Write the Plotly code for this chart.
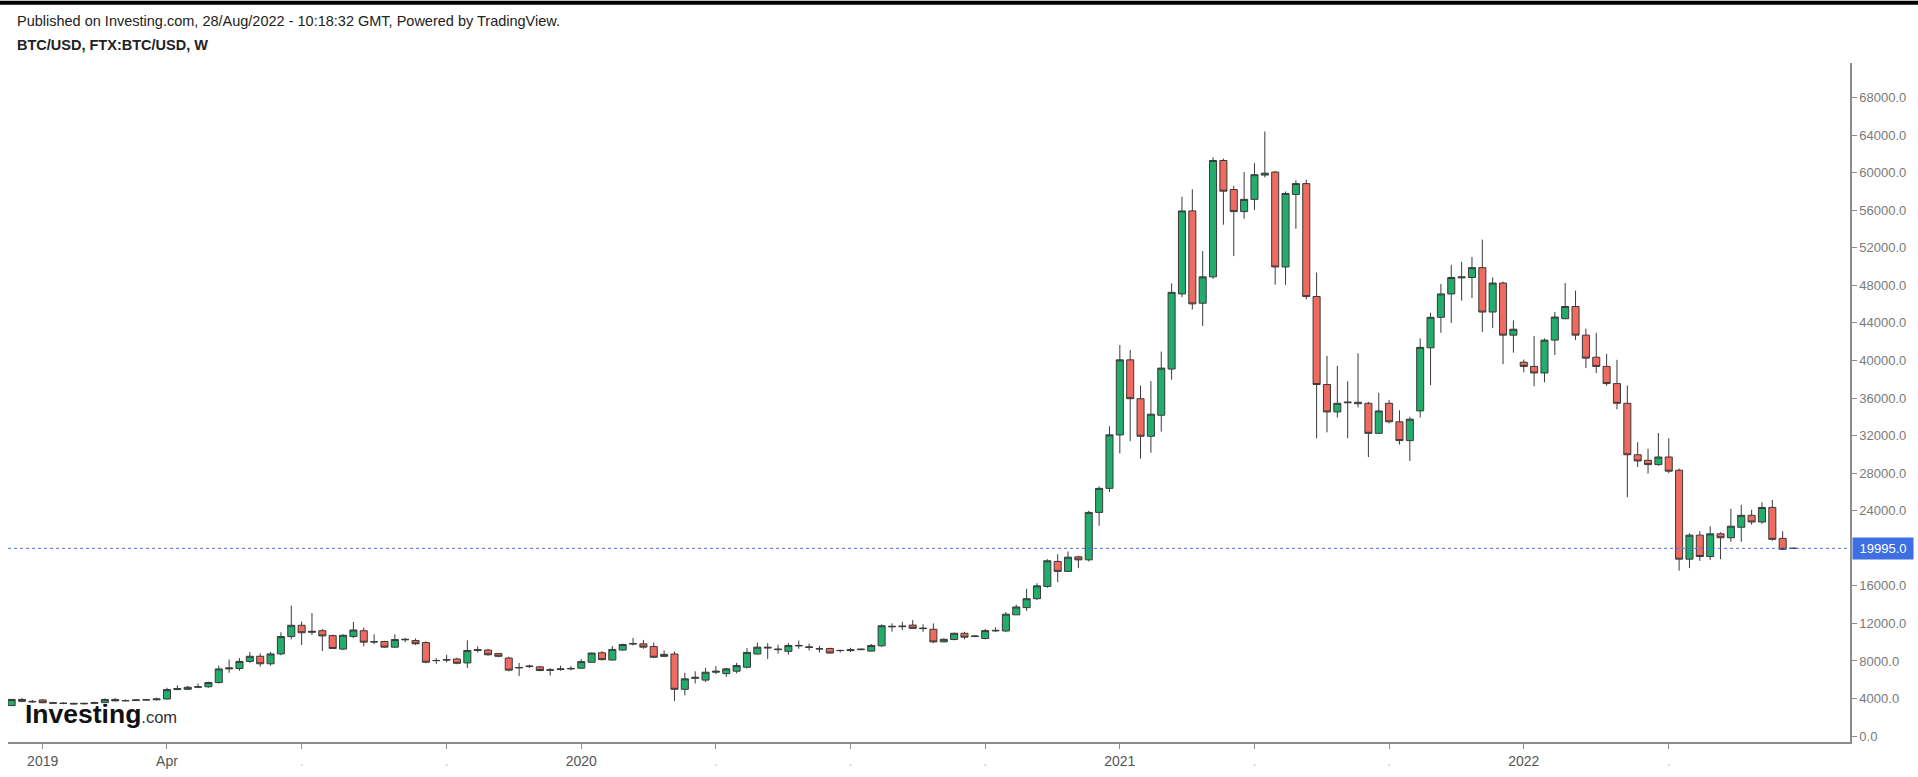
import plotly.graph_objects as go

# ---------------- data (weekly candles, bar index order) ----------------
opens = [3250, 3900, 3700, 3850, 3550, 3500, 3480, 3430, 3480, 3560, 3900, 3750, 3780, 3850, 3860,
         3950, 4950, 4980, 5200, 5250, 5700, 7150, 7200, 7950, 8500, 7700, 8750, 10600, 11800, 11050,
         11220, 10700, 9260, 10600, 11220, 10050, 10070, 9470, 10250, 10180, 9960, 8030, 8150, 8210, 7790,
         9120, 9160, 8800, 8310, 7260, 7400, 7370, 7000, 7100, 7150, 7230, 7860, 8870, 8100, 9160,
         9800, 9820, 9540, 8490, 8740, 4980, 6150, 5960, 6800, 6650, 6910, 7330, 8740, 9370, 9200,
         9020, 9600, 9500, 9300, 9330, 9100, 9100, 9200, 9050, 9610, 11700, 11650, 11820, 11500, 11370,
         10030, 10280, 10950, 10600, 10390, 11200, 11190, 12910, 13680, 14630, 15930, 18600, 17540, 19090, 18770,
         23820, 26380, 32070, 40070, 35930, 31930, 34170, 39090, 47090, 55930, 46100, 48910, 61300, 58210, 55860,
         57160, 59750, 60070, 49960, 57680, 58840, 46810, 37440, 34520, 35500, 35550, 35440, 32240, 35440, 33470,
         31470, 34630, 41350, 44600, 47090, 48800, 48840, 49890, 45160, 48250, 42700, 39820, 39370, 38670, 42170,
         44450, 45750, 42700, 40350, 39370, 37540, 35440, 29960, 29370, 28910, 29720, 28310, 18840, 21400, 19120,
         21540, 21120, 22240, 23510, 22800, 24350, 21050, 19995]
highs = [3950, 4050, 3850, 3950, 3650, 3600, 3550, 3550, 3650, 4000, 4050, 3900, 3950, 3950, 4100,
         5150, 5400, 5350, 5600, 5800, 7500, 8150, 8300, 8950, 8800, 8950, 11050, 13900, 12200, 13100,
         11400, 10800, 10850, 12150, 11550, 10840, 10150, 10840, 10450, 10400, 10100, 8300, 8660, 8350, 10200,
         9550, 9300, 8850, 8450, 7800, 7600, 7450, 7250, 7500, 7450, 8200, 8900, 9050, 9600, 9850,
         10450, 10240, 9960, 9120, 9000, 6740, 6900, 7260, 7440, 7250, 7790, 9370, 9960, 9890, 9720,
         9900, 10170, 9850, 9600, 9400, 9200, 9400, 9300, 9800, 11900, 12000, 12170, 12350, 11900, 12000,
         10400, 11000, 11100, 10750, 11400, 11580, 13200, 14000, 15680, 16280, 18840, 19370, 19650, 19200, 24000,
         26600, 33000, 41650, 41120, 37330, 37800, 40950, 48210, 57440, 58240, 51650, 61650, 61500, 58600, 60070,
         61020, 64390, 60200, 58000, 59190, 59260, 49370, 40490, 39440, 37790, 40770, 35600, 36560, 35800, 34700,
         34000, 42350, 45100, 48140, 50200, 50520, 51030, 52880, 48840, 48400, 44280, 40100, 42600, 42350, 45160,
         48250, 47440, 43400, 42950, 40700, 40070, 37330, 31300, 30600, 32280, 31720, 28500, 21600, 21820, 22350,
         21700, 24210, 24630, 24100, 24910, 25160, 21820, 20010]
lows = [3200, 3600, 3550, 3500, 3450, 3400, 3350, 3380, 3400, 3500, 3700, 3700, 3750, 3800, 3800,
        3900, 4900, 4900, 5100, 5150, 5600, 6750, 6950, 7800, 7400, 7500, 8600, 10300, 9700, 10770,
        9050, 9300, 9150, 10450, 9550, 9790, 9400, 9400, 10000, 9700, 7750, 7700, 7860, 7650, 7250,
        8900, 8550, 8400, 6900, 6400, 7250, 6900, 6450, 6950, 7000, 7150, 7800, 8050, 8050, 9100,
        9650, 9300, 8300, 8400, 3750, 4350, 5600, 5750, 6600, 6300, 6670, 7200, 8700, 8210, 8770,
        8670, 9300, 9120, 8900, 8800, 8900, 8950, 9150, 9000, 9500, 11120, 11300, 11400, 11100, 9900,
        10000, 10200, 10310, 10550, 10300, 11100, 11100, 12900, 13330, 14500, 15800, 16390, 17500, 17890, 18600,
        22400, 26000, 30100, 31400, 29540, 30170, 32420, 37960, 46740, 45440, 43680, 48700, 54460, 51120, 55090,
        56030, 59500, 48070, 48070, 54030, 46500, 31720, 32350, 33930, 31720, 35000, 29720, 32200, 33300, 31050,
        29300, 33930, 37380, 42950, 44000, 46380, 46650, 43050, 43470, 39610, 40840, 38740, 37260, 37680, 40600,
        44400, 42180, 39190, 38670, 37300, 34810, 25440, 28660, 27960, 28800, 28000, 17610, 17890, 18660, 18740,
        18840, 20700, 20700, 22520, 22600, 20800, 19800, 19980]
closes = [3900, 3700, 3650, 3550, 3500, 3480, 3430, 3480, 3560, 3900, 3750, 3780, 3850, 3860, 3950,
          4950, 5050, 5200, 5250, 5700, 7150, 7250, 7950, 8500, 7700, 8750, 10600, 11800, 11000, 11150,
          10665, 9330, 10735, 11300, 10000, 10030, 9470, 10280, 10300, 9830, 7860, 8050, 8100, 7750, 9120,
          9200, 8660, 8490, 7020, 7300, 7450, 6980, 7050, 7150, 7200, 7930, 8840, 8140, 9230, 9750,
          9850, 9470, 8390, 8700, 4980, 6100, 6250, 6800, 6900, 7160, 7510, 8910, 9470, 9450, 9250,
          9650, 9650, 9450, 9290, 8840, 9120, 9200, 9250, 9650, 11750, 11650, 11700, 11470, 11450, 10030,
          10310, 10950, 10530, 10650, 11230, 11250, 12980, 13750, 14630, 16000, 18670, 17540, 19050, 18770, 23820,
          26380, 32080, 40070, 35930, 31930, 34280, 39190, 47260, 55930, 46030, 48910, 61300, 58030, 55860, 57160,
          59790, 59950, 49960, 57790, 58840, 46810, 37440, 34520, 35440, 35560, 35400, 32240, 34630, 33470, 31470,
          33750, 41400, 44600, 47090, 48840, 48900, 49890, 45160, 48250, 42700, 43330, 39370, 38670, 42170, 44630,
          45750, 42700, 40250, 39370, 37540, 35440, 29960, 29300, 28910, 29720, 28210, 18840, 21400, 19120, 21540,
          21120, 22350, 23510, 22800, 24350, 20950, 19890, 19995]
bar_index = list(range(len(closes)))

x_tick_index = [3, 15, 28, 42, 55, 68, 81, 94, 107, 120, 133, 146, 160]
x_tick_labels = ["2019", "Apr", "", "", "2020", "", "", "", "2021", "", "", "2022", ""]
y_tick_values = [0, 4000, 8000, 12000, 16000, 24000, 28000, 32000, 36000, 40000, 44000,
                 48000, 52000, 56000, 60000, 64000, 68000]
last_price = 19995.0

# ---------------- layout helpers (pixel -> paper) ----------------
W, H = 1918, 777
ML, MR, MT, MB = 8, 68, 63, 27
PW, PH = W - ML - MR, H - MT - MB


def px_x(px):
    return (px - ML) / PW


def px_y(py):
    return (H - MB - py) / PH


dot = "<span style='color:#c8c8c8'>.</span>"
ticktext = [t if t else dot for t in x_tick_labels]

fig = go.Figure()
fig.add_trace(go.Candlestick(
    x=bar_index, open=opens, high=highs, low=lows, close=closes,
    increasing=dict(fillcolor="#22ad6d", line=dict(color="#3a3a3a", width=1)),
    decreasing=dict(fillcolor="#ef6a5f", line=dict(color="#3a3a3a", width=1)),
    whiskerwidth=0, showlegend=False, hoverinfo="skip",
))

fig.update_layout(
    width=W, height=H,
    margin=dict(l=ML, r=MR, t=MT, b=MB, pad=0),
    paper_bgcolor="white", plot_bgcolor="white",
    boxgap=0.32, boxgroupgap=0,
    showlegend=False,
    font=dict(family="Liberation Sans, Arial, sans-serif", size=13, color="#333"),
    xaxis=dict(
        range=[-0.35, 177.5], rangeslider=dict(visible=False),
        showgrid=False, zeroline=False,
        showline=True, linecolor="#8c8c8c", linewidth=2,
        ticks="outside", ticklen=5, tickcolor="#8c8c8c", tickwidth=1,
        tickmode="array", tickvals=x_tick_index, ticktext=ticktext,
        tickfont=dict(size=14, color="#555"),
    ),
    yaxis=dict(
        side="right", range=[-632, 71684],
        showgrid=False, zeroline=False,
        showline=True, linecolor="#8c8c8c", linewidth=1.5,
        ticks="outside", ticklen=5, tickcolor="#8c8c8c", tickwidth=1,
        tickmode="array", tickvals=y_tick_values,
        ticktext=[f"{v:.1f}" for v in y_tick_values],
        tickfont=dict(size=13, color="#7a7a7a"),
    ),
)

# last price dotted line and label
fig.add_shape(type="line", xref="paper", yref="y", x0=0, x1=1, y0=last_price, y1=last_price,
              line=dict(color="#4a72e6", width=1, dash="dot"))
fig.add_annotation(xref="paper", yref="y", x=px_x(1852), y=last_price, xanchor="left", yanchor="middle",
                   text=f"{last_price:.1f}", showarrow=False, bgcolor="#3d6fe2", borderpad=3, width=54,
                   font=dict(size=13, color="white"))

# top black strip
fig.add_shape(type="rect", xref="paper", yref="paper", x0=px_x(0), x1=px_x(W), y0=px_y(4), y1=px_y(0),
              fillcolor="black", line=dict(width=0), layer="above")

# header texts
fig.add_annotation(xref="paper", yref="paper", x=px_x(15), y=px_y(21), xanchor="left", yanchor="middle",
                   text="Published on Investing.com, 28/Aug/2022 - 10:18:32 GMT, Powered by TradingView.",
                   showarrow=False, font=dict(size=14.5, color="#222"))
fig.add_annotation(xref="paper", yref="paper", x=px_x(15), y=px_y(45), xanchor="left", yanchor="middle",
                   text="<b>BTC/USD, FTX:BTC/USD, W</b>",
                   showarrow=False, font=dict(size=14.5, color="#222"))

# logo
fig.add_annotation(xref="paper", yref="paper", x=px_x(23), y=px_y(722), xanchor="left", yanchor="middle",
                   text="<b>Investing</b><span style='font-size:16.5px;color:#333'>.com</span>",
                   showarrow=False,
                   font=dict(family="Liberation Sans, Arial, sans-serif", size=26.5, color="#111"))

fig.write_html("out.html")
